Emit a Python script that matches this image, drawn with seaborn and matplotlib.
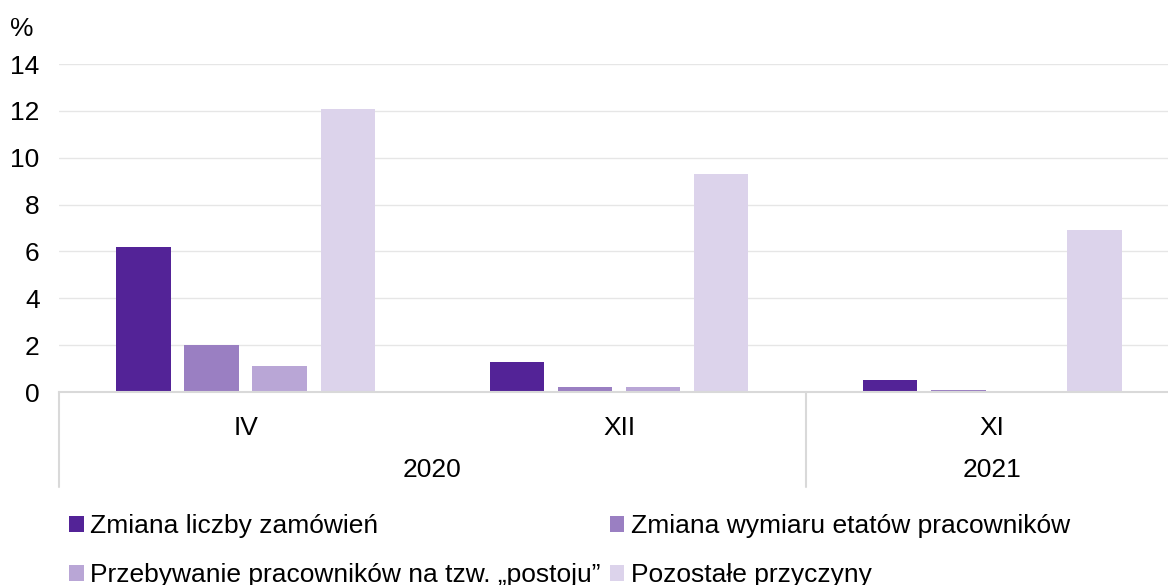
import matplotlib
matplotlib.use("Agg")
import matplotlib.pyplot as plt
import seaborn as sns
import pandas as pd
from matplotlib.patches import Patch

months = ["IV", "XII", "XI"]
years = ["2020", "2020", "2021"]
series = ["Zmiana liczby zamówień",
          "Zmiana wymiaru etatów pracowników",
          "Przebywanie pracowników na tzw. „postoju”",
          "Pozostałe przyczyny"]
zmiana_zamowien = [6.2, 1.3, 0.5]
zmiana_etatow = [2.0, 0.2, 0.1]
postoj = [1.1, 0.2, 0.0]
pozostale = [12.1, 9.3, 6.9]
colors = ["#532397", "#9a7fc2", "#b9a6d6", "#dcd3eb"]

rows = []
for s, vals in zip(series, [zmiana_zamowien, zmiana_etatow, postoj, pozostale]):
    for m, v in zip(months, vals):
        rows.append({"month": m, "series": s, "value": v})
df = pd.DataFrame(rows)

sns.set_theme(style="white")
plt.rcParams["font.family"] = ["Liberation Sans", "DejaVu Sans"]
plt.rcParams["text.color"] = "#000000"

FS = 19
fig = plt.figure(figsize=(11.68, 5.85), dpi=100)
W, H = 1168, 585
x0, x1 = 59, 1179
y0, y1 = 392, 64
ax = fig.add_axes([x0 / W, 1 - y0 / H, (x1 - x0) / W, (y0 - y1) / H])

sns.barplot(data=df, x="month", y="value", hue="series", order=months,
            hue_order=series, palette=colors, width=0.73, gap=0.2,
            saturation=1, ax=ax, legend=False, linewidth=0)

ax.set_ylim(0, 14)
ax.set_xlim(-0.5, 2.5)
ax.set_yticks(range(0, 15, 2))
ax.yaxis.grid(True, color="#e6e6e6", linewidth=1)
ax.set_axisbelow(True)
for sp in ["top", "right", "left"]:
    ax.spines[sp].set_visible(False)
ax.spines["bottom"].set_color("#d9d9d9")
ax.spines["bottom"].set_linewidth(1.5)
ax.tick_params(axis="y", labelsize=FS, pad=14, length=0, labelcolor="#000000")
ax.tick_params(axis="x", labelsize=FS, pad=17, length=0, labelcolor="#000000")
ax.set_xlabel("")
ax.set_ylabel("")

# year labels and separators
trans = ax.get_xaxis_transform()
sep_bottom = -(487 - y0) / (y0 - y1)
for xs in [-0.5, 1.5]:
    ax.plot([xs, xs], [0, sep_bottom], transform=trans, color="#d9d9d9",
            linewidth=1.5, clip_on=False)
year_y = -(470 - y0) / (y0 - y1)
ax.text(0.5, year_y, "2020", transform=trans, ha="center", va="center", fontsize=FS)
ax.text(2.0, year_y, "2021", transform=trans, ha="center", va="center", fontsize=FS)

fig.text(22 / W, 1 - 29 / H, "%", ha="center", va="center", fontsize=FS)

handles = [Patch(facecolor=c, edgecolor="none") for c in colors]
order = [0, 2, 1, 3]
fig.legend([handles[i] for i in order], [series[i] for i in order],
           ncol=2, loc="upper left", bbox_to_anchor=(69 / W, 1 - 514 / H),
           frameon=False, fontsize=FS, handlelength=0.55, handleheight=0.55,
           handletextpad=0.25, columnspacing=0.35, labelspacing=0.95,
           borderaxespad=0, borderpad=0, labelcolor="#000000")

fig.savefig("out.png", dpi=100)
